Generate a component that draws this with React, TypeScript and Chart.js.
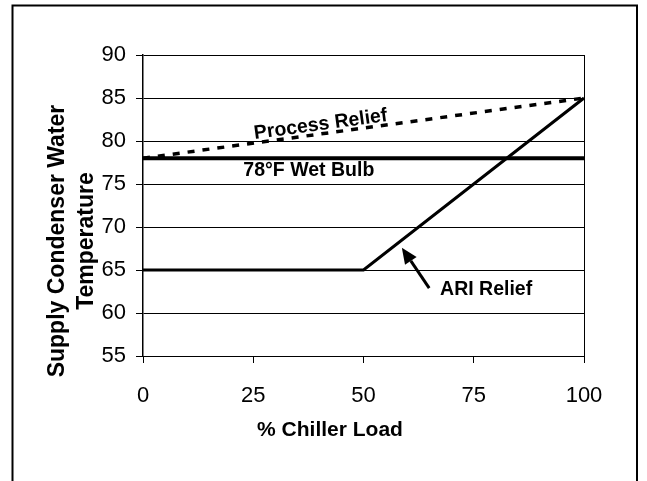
import React, { useEffect, useRef } from "react";
import { Chart, registerables } from "chart.js";

Chart.register(...registerables);

// ---- data ----
const loadTicks = [0, 25, 50, 75, 100];
const tempTicks = [55, 60, 65, 70, 75, 80, 85, 90];

const processReliefLoad = [0, 100];
const processReliefTemp = [78, 85];

const wetBulbLoad = [0, 100];
const wetBulbTemp = [78, 78];

const ariReliefLoad = [0, 50, 100];
const ariReliefTemp = [65, 65, 85];

const xTitle = "% Chiller Load";
const yTitle = ["Supply Condenser Water", "Temperature"];

const FONT = "'Liberation Sans', Arial, sans-serif";

const toPoints = (xs: number[], ys: number[]) => xs.map((x, i) => ({ x, y: ys[i] }));

const decorPlugin = {
  id: "decor",
  afterDraw(chart: any) {
    const { ctx } = chart;
    const xs = chart.scales.x;
    const ys = chart.scales.y;
    ctx.save();
    // outer frame (no bottom edge visible)
    ctx.strokeStyle = "#000";
    ctx.lineWidth = 2;
    ctx.beginPath();
    ctx.moveTo(12.5, 490);
    ctx.lineTo(12.5, 5.5);
    ctx.lineTo(637, 5.5);
    ctx.lineTo(637, 490);
    ctx.stroke();

    ctx.fillStyle = "#000";
    ctx.textAlign = "center";
    ctx.textBaseline = "middle";

    // axis titles
    ctx.font = `bold 21px ${FONT}`;
    ctx.fillText(xTitle, 330, 430);

    ctx.save();
    ctx.translate(58, 241);
    ctx.rotate(-Math.PI / 2);
    ctx.font = `bold 23px ${FONT}`;
    ctx.fillText(yTitle[0], 0, 0);
    ctx.fillText(yTitle[1], 0, 29);
    ctx.restore();

    // annotations
    ctx.font = `bold 19.5px ${FONT}`;
    const p0x = xs.getPixelForValue(processReliefLoad[0]);
    const p0y = ys.getPixelForValue(processReliefTemp[0]);
    const p1x = xs.getPixelForValue(processReliefLoad[1]);
    const p1y = ys.getPixelForValue(processReliefTemp[1]);
    const ang = Math.atan2(p1y - p0y, p1x - p0x);
    ctx.save();
    ctx.translate(xs.getPixelForValue(40.3), ys.getPixelForValue(81.9));
    ctx.rotate(ang);
    ctx.fillText("Process Relief", 0, 0);
    ctx.restore();

    ctx.fillText("78°F Wet Bulb", xs.getPixelForValue(37.6), ys.getPixelForValue(76.6));
    ctx.fillText("ARI Relief", xs.getPixelForValue(77.8), ys.getPixelForValue(62.7));

    // arrow
    const tx = xs.getPixelForValue(64.9), ty = ys.getPixelForValue(62.9);
    const hx = xs.getPixelForValue(58.7), hy = ys.getPixelForValue(67.6);
    const a = Math.atan2(hy - ty, hx - tx);
    const headLen = 16, headW = 7;
    const bx = hx - headLen * Math.cos(a), by = hy - headLen * Math.sin(a);
    ctx.lineWidth = 3;
    ctx.beginPath();
    ctx.moveTo(tx, ty);
    ctx.lineTo(bx, by);
    ctx.stroke();
    ctx.beginPath();
    ctx.moveTo(hx, hy);
    ctx.lineTo(bx + headW * Math.sin(a), by - headW * Math.cos(a));
    ctx.lineTo(bx - headW * Math.sin(a), by + headW * Math.cos(a));
    ctx.closePath();
    ctx.fill();
    ctx.restore();
  },
};

export default function App() {
  const ref = useRef<HTMLCanvasElement | null>(null);
  useEffect(() => {
    if (!ref.current) return;
    const chart = new Chart(ref.current, {
      type: "line",
      data: {
        datasets: [
          {
            label: "Process Relief",
            data: toPoints(processReliefLoad, processReliefTemp),
            borderColor: "#000",
            borderWidth: 3.5,
            borderDash: [7, 8],
            pointRadius: 0,
            fill: false,
          },
          {
            label: "78°F Wet Bulb",
            data: toPoints(wetBulbLoad, wetBulbTemp),
            borderColor: "#000",
            borderWidth: 4,
            pointRadius: 0,
            fill: false,
          },
          {
            label: "ARI Relief",
            data: toPoints(ariReliefLoad, ariReliefTemp),
            borderColor: "#000",
            borderWidth: 3,
            pointRadius: 0,
            fill: false,
          },
        ],
      },
      options: {
        animation: false,
        responsive: false,
        maintainAspectRatio: false,
        layout: { padding: { top: 55, right: 63, left: 0, bottom: 0 } },
        plugins: { legend: { display: false }, tooltip: { enabled: false } },
        scales: {
          x: {
            type: "linear",
            min: loadTicks[0],
            max: loadTicks[loadTicks.length - 1],
            afterBuildTicks: (s: any) => {
              s.ticks = loadTicks.map((v) => ({ value: v }));
            },
            afterFit: (s: any) => {
              s.height = 125;
            },
            ticks: {
              color: "#000",
              font: { family: FONT, size: 22 },
              padding: 20,
              maxRotation: 0,
            },
            grid: {
              color: (c: any) => (c.tick && c.tick.value === 100 ? "#000" : "rgba(0,0,0,0)"),
              tickColor: "#000",
              tickLength: 7,
              lineWidth: 1,
            },
            border: { display: true, color: "#000", width: 1 },
          },
          y: {
            type: "linear",
            min: tempTicks[0],
            max: tempTicks[tempTicks.length - 1],
            afterBuildTicks: (s: any) => {
              s.ticks = tempTicks.map((v) => ({ value: v }));
            },
            afterFit: (s: any) => {
              s.width = 143;
            },
            ticks: {
              color: "#000",
              font: { family: FONT, size: 22 },
              padding: 10,
            },
            grid: {
              color: "#000",
              tickColor: "#000",
              tickLength: 7,
              lineWidth: 1,
            },
            border: { display: true, color: "#000", width: 1.5 },
          },
        },
      },
      plugins: [decorPlugin],
    } as any);
    return () => chart.destroy();
  }, []);
  return (
    <div style={{ position: "absolute", left: 0, top: 0, width: 647, height: 481, background: "#fff" }}>
      <canvas ref={ref} width={647} height={481} style={{ display: "block" }} />
    </div>
  );
}
